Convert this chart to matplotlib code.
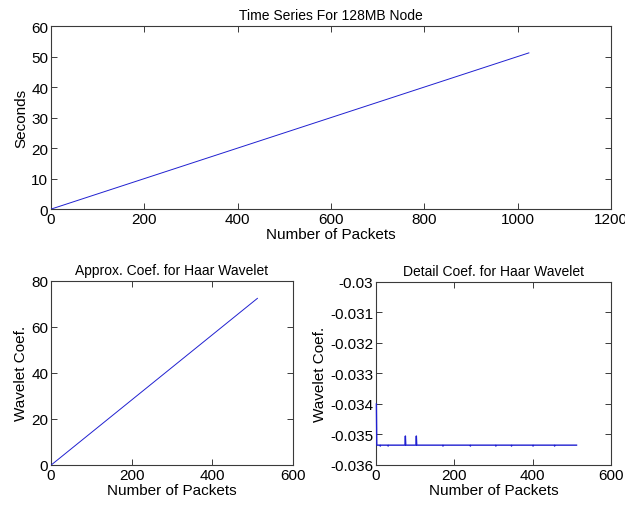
import numpy as np
import matplotlib
matplotlib.use("Agg")
import matplotlib.pyplot as plt

# Series temporal (pacotes x segundos)
ts_packets = [1, 1024]
ts_seconds = [0.05, 51.2]

# Coeficientes de aproximação (Haar)
approx_idx = [1, 512]
approx_coef = [0.07, 72.4]

# Coeficientes de detalhe (Haar)
detail_idx = [1, 2, 10, 11, 12, 30, 31, 32, 74, 75, 76, 102, 103, 104,
              170, 171, 172, 240, 241, 242, 305, 306, 307, 345, 346, 347,
              400, 401, 402, 455, 456, 457, 512]
detail_coef = [-0.0340, -0.03535, -0.03535, -0.03538, -0.03535, -0.03535, -0.03538, -0.03535,
               -0.03535, -0.03505, -0.03535, -0.03535, -0.03505, -0.03535,
               -0.03535, -0.03538, -0.03535, -0.03535, -0.03538, -0.03535,
               -0.03535, -0.03538, -0.03535, -0.03535, -0.03538, -0.03535,
               -0.03535, -0.03538, -0.03535, -0.03535, -0.03538, -0.03535, -0.03535]

plt.rcParams["font.family"] = ["Liberation Sans", "DejaVu Sans"]
plt.rcParams["font.size"] = 11

fig = plt.figure(figsize=(6.25, 5.1), dpi=100)
ax_top = fig.add_axes([0.0816, 0.588, 0.896, 0.359])
ax_bl = fig.add_axes([0.0816, 0.0863, 0.387, 0.361])
ax_br = fig.add_axes([0.6016, 0.0863, 0.376, 0.359])


def matlab_style(ax):
    for s in ax.spines.values():
        s.set_color("#3a3a3a")
        s.set_linewidth(0.8)
    ax.tick_params(direction="in", top=True, right=True, length=4,
                   width=0.7, labelsize=11, pad=2, color="#3a3a3a")


line_kw = dict(color="#2020d0", linewidth=0.7, zorder=3)

ax_top.plot(ts_packets, ts_seconds, **line_kw)
ax_top.set_xlim(0, 1200)
ax_top.set_ylim(0, 60)
ax_top.set_xticks(np.arange(0, 1201, 200))
ax_top.set_yticks(np.arange(0, 61, 10))
ax_top.set_title("Time Series For 128MB Node", fontsize=10, pad=5)
ax_top.set_xlabel("Number of Packets", labelpad=1)
ax_top.set_ylabel("Seconds", labelpad=2)
matlab_style(ax_top)

ax_bl.plot(approx_idx, approx_coef, **line_kw)
ax_bl.set_xlim(0, 600)
ax_bl.set_ylim(0, 80)
ax_bl.set_xticks([0, 200, 400, 600])
ax_bl.set_yticks(np.arange(0, 81, 20))
ax_bl.set_title("Approx. Coef. for Haar Wavelet", fontsize=10, pad=5)
ax_bl.set_xlabel("Number of Packets", labelpad=1)
ax_bl.set_ylabel("Wavelet Coef.", labelpad=2)
matlab_style(ax_bl)

ax_br.plot(detail_idx, detail_coef, color="#2020d0", linewidth=1.0, zorder=3,
           clip_on=False)
ax_br.set_xlim(0, 600)
ax_br.set_ylim(-0.036, -0.03)
ax_br.set_xticks([0, 200, 400, 600])
ax_br.set_yticks(np.arange(-0.036, -0.02999, 0.001))
ax_br.set_yticklabels([f"{v:g}" for v in np.round(np.arange(-0.036, -0.02999, 0.001), 3)])
ax_br.set_title("Detail Coef. for Haar Wavelet", fontsize=10, pad=5)
ax_br.set_xlabel("Number of Packets", labelpad=1)
ax_br.set_ylabel("Wavelet Coef.", labelpad=2)
matlab_style(ax_br)

fig.savefig("out.png", dpi=100)
